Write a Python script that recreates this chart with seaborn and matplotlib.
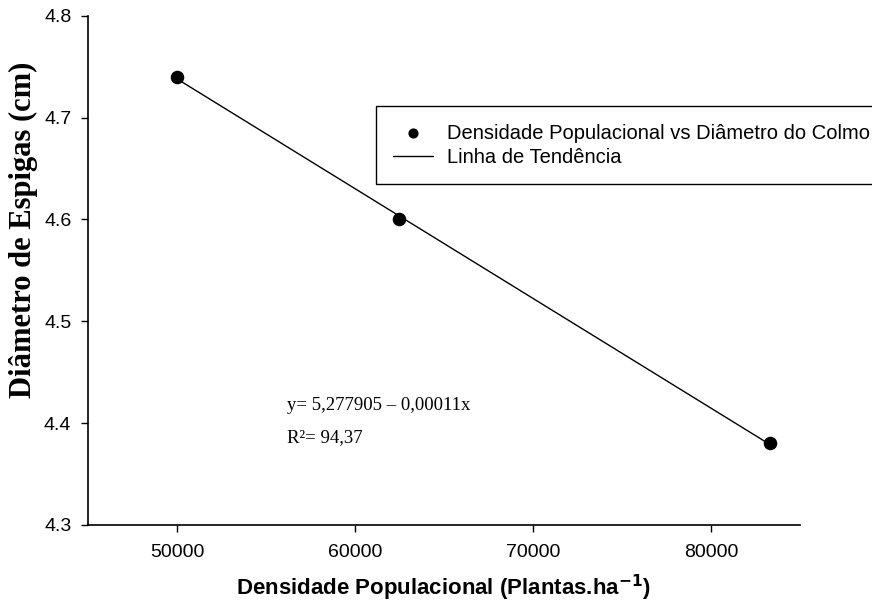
import numpy as np
import pandas as pd
import matplotlib
matplotlib.use("Agg")
import matplotlib.pyplot as plt
import seaborn as sns

# data
densidade = [50000, 62500, 83333]
diametro = [4.74, 4.60, 4.38]
x_ticks = [50000, 60000, 70000, 80000]
y_ticks = [4.3, 4.4, 4.5, 4.6, 4.7, 4.8]
equacao = "y= 5,277905 \u2013 0,00011x"
r2_texto = "R\u00b2= 94,37"

df = pd.DataFrame({"densidade": densidade, "diametro": diametro})

sns.set_style("ticks")
plt.rcParams["font.family"] = ["Liberation Sans", "DejaVu Sans"]
plt.rcParams["text.color"] = "black"
plt.rcParams["axes.labelcolor"] = "black"

fig = plt.figure(figsize=(8.72, 6.01), dpi=100)
ax = fig.add_axes([0.1009, 0.1265, 0.8165, 0.8474])

# trend line (linear fit, drawn between first and last point)
sns.regplot(data=df, x="densidade", y="diametro", ax=ax, scatter=False,
            ci=None, truncate=True, label="Linha de Tendência",
            line_kws={"color": "black", "lw": 1.0})
sns.scatterplot(data=df, x="densidade", y="diametro", ax=ax, color="black",
                s=95, edgecolor="black", linewidth=0, zorder=3,
                label="Densidade Populacional vs Diâmetro do Colmo")

ax.set_xlim(45000, 85000)
ax.set_ylim(4.3, 4.8)
ax.set_xticks(x_ticks)
ax.set_yticks(y_ticks)
ax.tick_params(axis="both", direction="out", length=5, width=1.0,
               labelsize=14, colors="black")
ax.tick_params(axis="y", pad=7)
ax.tick_params(axis="x", pad=9)
for side in ["left", "bottom"]:
    ax.spines[side].set_linewidth(1.2)
    ax.spines[side].set_color("black")
sns.despine(ax=ax)

ax.set_xlabel("Densidade Populacional (Plantas.ha$^{\\mathbf{-1}}$)",
              fontsize=16, fontweight="bold", labelpad=8, color="black")
ax.set_ylabel("Diâmetro de Espigas (cm)", fontsize=22, fontweight="bold",
              family=["Liberation Serif", "DejaVu Serif"], color="black")
# the reference label sits a bit above the middle of the axis
ax.yaxis.set_label_coords(-0.07, 0.58)

ax.text(0.2795, 0.235, equacao, transform=ax.transAxes, fontsize=13.5,
        family=["Liberation Serif", "DejaVu Serif"], va="center", color="black")
ax.text(0.2795, 0.172, r2_texto, transform=ax.transAxes, fontsize=13.5,
        family=["Liberation Serif", "DejaVu Serif"], va="center", color="black")

# legend: points first, then the trend line
handles, labels = ax.get_legend_handles_labels()
if ax.get_legend() is not None:
    ax.get_legend().remove()
order = [labels.index("Densidade Populacional vs Diâmetro do Colmo"),
         labels.index("Linha de Tendência")]
leg = fig.legend([handles[i] for i in order], [labels[i] for i in order],
                 loc="upper left",
                 bbox_to_anchor=(376 / 872, 1 - 107 / 601, 0.6, 0.001),
                 mode="expand", frameon=True, fancybox=False, fontsize=14.5,
                 handlelength=2.0, borderpad=0.85, labelspacing=0.25,
                 markerscale=0.75, handletextpad=0.7, borderaxespad=0)
leg.get_frame().set_edgecolor("black")
leg.get_frame().set_linewidth(1.0)
leg.get_frame().set_alpha(1)
for t in leg.get_texts():
    t.set_color("black")

fig.savefig("out.png", dpi=100)
